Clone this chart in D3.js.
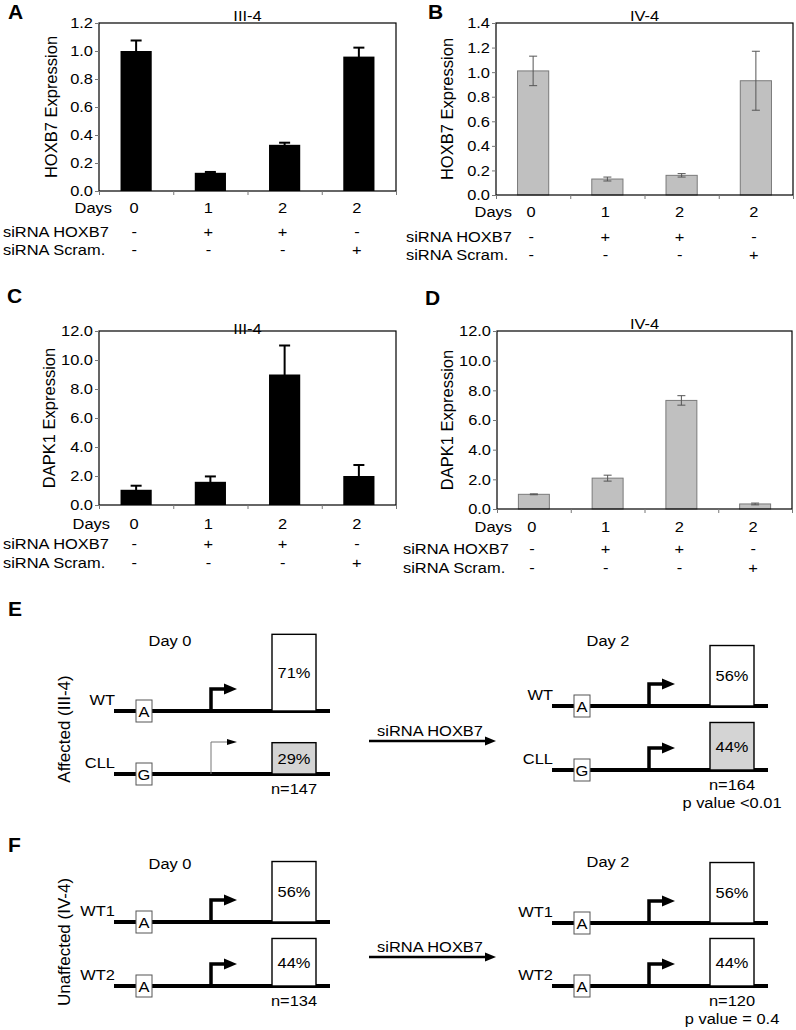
<!DOCTYPE html>
<html lang="en">
<head>
<meta charset="UTF-8">
<title>HOXB7 / DAPK1 knockdown</title>
<script src="https://d3js.org/d3.v7.min.js"></script>
<style>
    body { margin: 0; background: #fff; }
    svg { display: block; font-family: "Liberation Sans", Arial, sans-serif; }
</style>
</head>
<body>
<svg id="fig" width="796" height="1030"></svg>
<script>
// ---- data ----
const days = ["0", "1", "2", "2"];
const siHOXB7 = ["-", "+", "+", "-"];
const siScram = ["-", "-", "-", "+"];

const hoxb7III4 = [1.00, 0.13, 0.33, 0.96];
const hoxb7III4Err = [0.075, 0.006, 0.015, 0.064];
const hoxb7IV4 = [1.01, 0.13, 0.16, 0.93];
const hoxb7IV4Err = [0.12, 0.016, 0.014, 0.24];
const dapk1III4 = [1.05, 1.60, 9.0, 2.0];
const dapk1III4Err = [0.28, 0.37, 2.0, 0.76];
const dapk1IV4 = [0.99, 2.08, 7.32, 0.34];
const dapk1IV4Err = [0.03, 0.2, 0.32, 0.06];

const eLabels = ["WT", "CLL"];
const eAlleles = ["A", "G"];
const eDay0Pct = [71, 29];
const eDay2Pct = [56, 44];
const eDay0Weak = [false, true];
const eN = [147, 164];
const eP = "p value <0.01";

const fLabels = ["WT1", "WT2"];
const fAlleles = ["A", "A"];
const fDay0Pct = [56, 44];
const fDay2Pct = [56, 44];
const fN = [134, 120];
const fP = "p value = 0.4";

const FS = 15.5;
const SX = 1.06;  // text in the original is drawn a bit wide
const svg = d3.select("#fig");

function txt(g, x, y, s, anchor = "start", size = FS) {
    return g.append("text")
        .attr("transform", `translate(${x},${y}) scale(${SX},1)`)
        .attr("text-anchor", anchor)
        .attr("font-size", size)
        .attr("fill", "#000")
        .text(s);
}

function letter(x, y, s) {
    svg.append("text").attr("x", x).attr("y", y)
        .attr("font-size", 21).attr("font-weight", "bold").text(s);
}

function vlabel(x, y, s, size) {
    svg.append("text")
        .attr("transform", `translate(${x},${y}) rotate(-90)`)
        .attr("text-anchor", "middle")
        .attr("font-size", size)
        .attr("fill", "#000")
        .text(s);
}

// ---- bar panels ----
function barPanel(c, vals, errs) {
    const g = svg.append("g");
    const gray = c.gray;
    const x = d3.scaleBand().domain(d3.range(vals.length))
        .range([c.left, c.right]).paddingInner(0.58).paddingOuter(0.29);
    const xl = d3.scaleLinear().domain([0, vals.length]).range([c.left, c.right]);
    const y = d3.scaleLinear().domain([0, c.max]).range([c.bottom, c.top]);
    const bw = x.bandwidth();

    g.selectAll("rect.bar").data(vals).join("rect")
        .attr("class", "bar")
        .attr("x", (d, i) => x(i))
        .attr("width", bw)
        .attr("y", d => y(d))
        .attr("height", d => c.bottom - y(d))
        .attr("fill", gray ? "#c0c0c0" : "#000")
        .attr("stroke", gray ? "#7a7a7a" : "none");

    // error bars
    const eStroke = gray ? "#555" : "#000";
    const eWidth = gray ? 1 : 2;
    const cap = gray ? 4 : 5.5;
    const eg = g.selectAll("g.err").data(vals).join("g").attr("class", "err");
    eg.append("line")
        .attr("x1", (d, i) => x(i) + bw / 2).attr("x2", (d, i) => x(i) + bw / 2)
        .attr("y1", (d, i) => y(d - errs[i])).attr("y2", (d, i) => y(d + errs[i]));
    eg.append("line")
        .attr("x1", (d, i) => x(i) + bw / 2 - cap).attr("x2", (d, i) => x(i) + bw / 2 + cap)
        .attr("y1", (d, i) => y(d + errs[i])).attr("y2", (d, i) => y(d + errs[i]));
    eg.append("line")
        .attr("x1", (d, i) => x(i) + bw / 2 - cap).attr("x2", (d, i) => x(i) + bw / 2 + cap)
        .attr("y1", (d, i) => y(d - errs[i])).attr("y2", (d, i) => y(d - errs[i]));
    eg.selectAll("line").attr("stroke", eStroke).attr("stroke-width", eWidth);

    // plot frame
    g.append("rect")
        .attr("x", c.left).attr("y", c.top)
        .attr("width", c.right - c.left).attr("height", c.bottom - c.top)
        .attr("fill", "none").attr("stroke", "#000").attr("stroke-width", 1.2);

    // y axis
    const ya = g.append("g")
        .attr("transform", `translate(${c.left},0)`)
        .call(d3.axisLeft(y)
            .tickValues(d3.range(0, c.max + c.step / 2, c.step))
            .tickFormat(d3.format(".1f"))
            .tickSize(4));
    ya.select(".domain").remove();
    ya.attr("font-size", FS).attr("font-family", null);
    ya.selectAll(".tick line").attr("stroke", "#777");
    ya.selectAll(".tick text")
        .attr("x", null)
        .attr("fill", "#000")
        .attr("transform", `translate(-6,0) scale(${SX},1)`);

    // category ticks under the axis
    const xa = g.append("g")
        .attr("transform", `translate(0,${c.bottom})`)
        .call(d3.axisBottom(xl).tickValues(d3.range(0, vals.length + 1)).tickSize(4).tickFormat(""));
    xa.select(".domain").remove();
    xa.selectAll(".tick line").attr("stroke", "#777");

    // title and y label
    txt(g, (c.left + c.right) / 2, c.titleY, c.title, "middle");
    vlabel(c.ylabelX, (c.top + c.bottom) / 2, c.ylabel, 16.5);
    letter(c.lx, c.ly, c.letter);

    // condition rows
    txt(g, c.daysRight, c.rowsY[0], "Days", "end");
    txt(g, c.rowLeft, c.rowsY[1], "siRNA HOXB7");
    txt(g, c.rowLeft, c.rowsY[2], "siRNA Scram.");
    [days, siHOXB7, siScram].forEach((row, r) => {
        row.forEach((s, i) => txt(g, x(i) + bw / 2 - 2, c.rowsY[r], s, "middle"));
    });
}

barPanel({letter: "A", lx: 8, ly: 19, title: "III-4", titleY: 21, left: 99, right: 396, top: 23, bottom: 191,
          max: 1.2, step: 0.2, ylabel: "HOXB7 Expression", ylabelX: 57, gray: false,
          daysRight: 112, rowLeft: 3, rowsY: [213, 237, 255]}, hoxb7III4, hoxb7III4Err);
barPanel({letter: "B", lx: 428, ly: 19, title: "IV-4", titleY: 21, left: 496, right: 793, top: 23, bottom: 195,
          max: 1.4, step: 0.2, ylabel: "HOXB7 Expression", ylabelX: 453, gray: true,
          daysRight: 512, rowLeft: 406, rowsY: [217, 242, 260]}, hoxb7IV4, hoxb7IV4Err);
barPanel({letter: "C", lx: 7, ly: 303, title: "III-4", titleY: 334, left: 99, right: 396, top: 331, bottom: 505,
          max: 12, step: 2, ylabel: "DAPK1 Expression", ylabelX: 55, gray: false,
          daysRight: 110, rowLeft: 3, rowsY: [529, 549, 568]}, dapk1III4, dapk1III4Err);
barPanel({letter: "D", lx: 425, ly: 305, title: "IV-4", titleY: 329, left: 497, right: 792, top: 331, bottom: 509,
          max: 12, step: 2, ylabel: "DAPK1 Expression", ylabelX: 453, gray: true,
          daysRight: 512, rowLeft: 403, rowsY: [532, 554, 573]}, dapk1IV4, dapk1IV4Err);

// ---- allele diagrams ----
const pctH = d3.scaleLinear().domain([0, 100]).range([0, 108]);

function diagram(c, labels, alleles, pcts, weak, n, p) {
    const g = svg.append("g");
    const x0 = c.x0;
    txt(g, x0 + 56, c.dayY, c.day, "middle");
    labels.forEach((lab, i) => {
        const ly = c.rowsY[i];
        txt(g, x0 + 1, ly - 6, lab, "end");
        g.append("line").attr("x1", x0).attr("x2", x0 + 216).attr("y1", ly).attr("y2", ly)
            .attr("stroke", "#000").attr("stroke-width", 4);
        // allele box
        g.append("rect").attr("x", x0 + 22).attr("y", ly - 11).attr("width", 16).attr("height", 22)
            .attr("fill", "#fff").attr("stroke", "#555").attr("stroke-width", 1);
        txt(g, x0 + 30, ly + 6, alleles[i], "middle");
        // promoter arrow
        const ax = x0 + 97;
        const w = weak && weak[i];
        const ah = w ? 32 : 22;
        g.append("path")
            .attr("d", `M${ax},${ly} V${ly - ah} H${ax + (w ? 17 : 14)}`)
            .attr("fill", "none")
            .attr("stroke", w ? "#777" : "#000")
            .attr("stroke-width", w ? 1 : 3.5);
        const hh = w ? 3 : 5.5, hx = w ? ax + 16 : ax + 13;
        g.append("path")
            .attr("d", `M${hx},${ly - ah - hh} L${ax + 26},${ly - ah} L${hx},${ly - ah + hh} Z`)
            .attr("fill", "#000");
        // percentage box
        const h = pctH(pcts[i]);
        g.append("rect").attr("x", x0 + 158).attr("y", ly - h).attr("width", 44).attr("height", h)
            .attr("fill", alleles[i] === "G" ? "#d4d4d4" : "#fff")
            .attr("stroke", "#000").attr("stroke-width", 1.4);
        txt(g, x0 + 180, ly - h / 2 + 5.5, pcts[i] + "%", "middle");
    });
    const last = c.rowsY[c.rowsY.length - 1];
    txt(g, x0 + 180, last + 20, "n=" + n, "middle");
    if (p) txt(g, x0 + 180, last + 38, p, "middle");
}

function treatArrow(y) {
    const g = svg.append("g");
    txt(g, 430, y - 5, "siRNA HOXB7", "middle");
    g.append("line").attr("x1", 369).attr("x2", 486).attr("y1", y).attr("y2", y)
        .attr("stroke", "#000").attr("stroke-width", 2.5);
    g.append("path").attr("d", `M485,${y - 4.5} L496,${y} L485,${y + 4.5} Z`).attr("fill", "#000");
}

letter(8, 616, "E");
vlabel(70, 729, "Affected (III-4)", 17);
diagram({x0: 114, rowsY: [711, 774], day: "Day 0", dayY: 646}, eLabels, eAlleles, eDay0Pct, eDay0Weak, eN[0], null);
diagram({x0: 552, rowsY: [706, 770], day: "Day 2", dayY: 646}, eLabels, eAlleles, eDay2Pct, null, eN[1], eP);
treatArrow(741);

letter(8, 852, "F");
vlabel(70, 942, "Unaffected (IV-4)", 17);
diagram({x0: 114, rowsY: [922, 986], day: "Day 0", dayY: 869}, fLabels, fAlleles, fDay0Pct, null, fN[0], null);
diagram({x0: 552, rowsY: [923, 986], day: "Day 2", dayY: 867}, fLabels, fAlleles, fDay2Pct, null, fN[1], fP);
treatArrow(957);
</script>
</body>
</html>
